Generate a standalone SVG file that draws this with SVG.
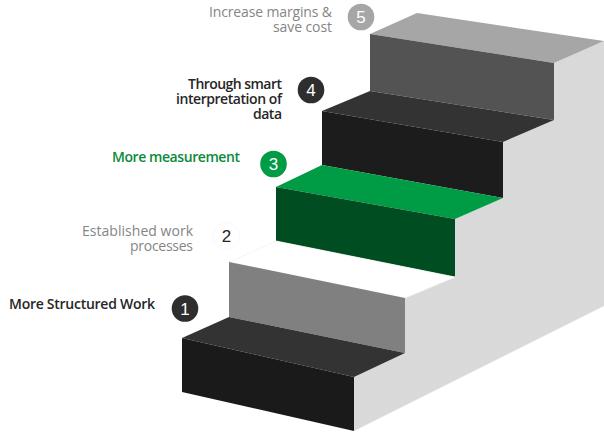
<svg xmlns="http://www.w3.org/2000/svg" width="604" height="432" viewBox="0 0 604 432">
<style>
.lbl{font-family:"Open Sans","Noto Sans",sans-serif;font-size:14px;text-anchor:end}
.gray{fill:#858585;font-weight:500}
.dark{fill:#262626;font-weight:600}
.green{fill:#0b8a3b;font-weight:600}
.num{font-family:"Liberation Sans",Arial,sans-serif;font-size:17px;text-anchor:middle;fill:#fff}
</style>
<rect width="604" height="432" fill="#fff"/>
<g id="side-wall">
<polygon points="604,41 554,63 554,120 503,142 503,198 455,219 455,277 405,298 405,353 354,377 354,431 604,306" fill="#d9d9d9"/>
</g>
<g id="step5">
<polygon points="370,34 417,13 604,41 554,63" fill="#a6a6a6"/>
<polygon points="370,34 554,63 554,120 370,91" fill="#535353"/>
</g>
<g id="step4">
<polygon points="370,91 554,120 503,142 322,111" fill="#333"/>
<polygon points="322,111 503,142 503,198 322,165" fill="#1c1c1c"/>
</g>
<g id="step3">
<polygon points="322,165 503,198 455,219 276,187" fill="#009b45"/>
<polygon points="276,187 455,219 455,277 276,241" fill="#004d22"/>
</g>
<g id="step2">
<polygon points="276,241 455,277 405,298 229,262" fill="#fff" stroke="#f3f3f3" stroke-width="0.8"/>
<polygon points="229,262 405,298 405,353 229,317" fill="#808080"/>
</g>
<g id="step1">
<polygon points="229,317 405,353 354,377 182,338" fill="#333"/>
<polygon points="182,338 354,377 354,431 182,392" fill="#1a1a1a"/>
</g>
<g id="label5">
<circle cx="361" cy="17" r="13.3" fill="#a6a6a6"/>
<text class="num" x="361" y="23">5</text>
<text class="lbl gray"><tspan x="332" y="17" textLength="123">Increase margins &amp;</tspan><tspan x="332" y="31.5" textLength="59">save cost</tspan></text>
</g>
<g id="label4">
<circle cx="311" cy="90" r="13.3" fill="#2e2e2e"/>
<text class="num" x="311" y="96">4</text>
<text class="lbl dark"><tspan x="282" y="89" textLength="94">Through smart</tspan><tspan x="282" y="104" textLength="106">interpretation of</tspan><tspan x="282" y="119" textLength="29">data</tspan></text>
</g>
<g id="label3">
<circle cx="273.5" cy="164" r="13.3" fill="#009b45"/>
<text class="num" x="273.5" y="170">3</text>
<text class="lbl green" x="240" y="162" textLength="128">More measurement</text>
</g>
<g id="label2">
<circle cx="226.5" cy="236" r="13.3" fill="#fff" stroke="#ededed" stroke-width="0.8" stroke-dasharray="1.5 1.5"/>
<text class="num" x="226.5" y="242" style="fill:#222">2</text>
<text class="lbl gray"><tspan x="193" y="236" textLength="111">Established work</tspan><tspan x="193" y="250.5" textLength="63">processes</tspan></text>
</g>
<g id="label1">
<circle cx="185" cy="308.5" r="13.3" fill="#2e2e2e"/>
<text class="num" x="185" y="314.5">1</text>
<text class="lbl dark" x="155" y="309" textLength="146">More Structured Work</text>
</g>
</svg>
